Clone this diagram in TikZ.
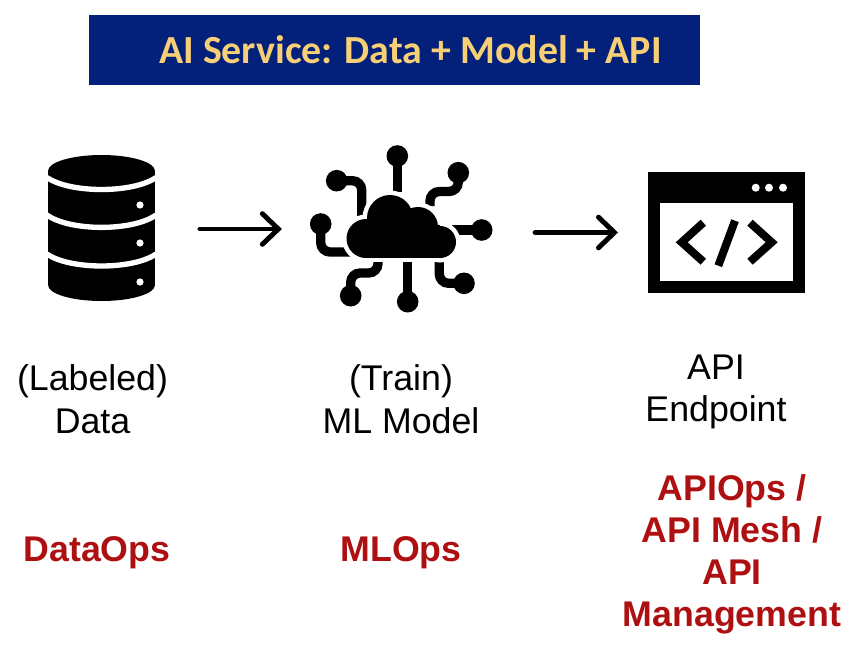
\documentclass[tikz,border=0pt]{standalone}
\usepackage{fontspec}
\setmainfont{Liberation Sans}
\newfontfamily\titlefont{Carlito}
\usetikzlibrary{arrows.meta}
\definecolor{banner}{HTML}{03217B}
\definecolor{gold}{HTML}{F6CF76}
\definecolor{redlab}{HTML}{AE0F10}
\tikzset{
  x=0.75pt,y=-0.75pt,
  icon/.style={fill=black,draw=none},
  wire/.style={draw=black,line width=7pt,rounded corners=7pt},
  box/.style={draw=none,inner sep=0pt,minimum width=#1},
  flow/.style={draw=black,line width=3.7pt,line cap=round,line join=round,-{Straight Barb[length=12pt,width=23pt,line cap=round]}},
  lab/.style={align=center,font=\fontsize{26.8pt}{32pt}\selectfont},
  ops/.style={align=center,text=redlab,font=\fontsize{26.8pt}{33.5pt}\selectfont\bfseries},
}
\begin{document}
\begin{tikzpicture}
\useasboundingbox (0,0) rectangle (860,650);
% banner
\node[fill=banner,minimum width=458.25pt,minimum height=52.5pt,inner sep=0pt,text=gold,font=\fontsize{29.9pt}{36pt}\selectfont\titlefont\bfseries] (title) at (394.5,50) {\hspace*{24pt}AI Service: Data + Model + API};
% icon frames
\node[box=80.25pt,minimum height=109pt] (db) at (101.5,229) {};
\node[box=137pt,minimum height=120pt] (cloud) at (401.5,229) {};
\node[box=117.5pt,minimum height=90pt] (api) at (726.6,232.5) {};
% database
\fill[icon] (101.5,171) ellipse[x radius=53.5,y radius=16];
\fill[icon] (101.5,285) ellipse[x radius=53.5,y radius=16];
\fill[icon] (48,171) rectangle (155,285);
\foreach \c/\e in {189.5/177.5,227.5/215,266/254}{
  \draw[white,line width=4pt] (47,\e) .. controls (70,{\c+4}) and (133,{\c+4}) .. (156,\e);
}
\foreach \y in {205,243,282}{\fill[white] (140,\y) circle[radius=3.6];}
% cloud wires
\draw[wire] (397.3,156) -- (397.3,192);
\draw[wire] (336.7,180.7) -- (361.7,180.7) -- (361.7,218);
\draw[wire] (320.7,224) -- (320.7,252) -- (355,252);
\draw[wire] (458.3,172.7) -- (458.3,191.5) -- (430,191.5) -- (430,206);
\draw[wire] (481.7,230) -- (450,230);
\draw[wire] (350.7,295.7) -- (350.7,273) -- (378,273) -- (378,260);
\draw[wire] (407.7,301.7) -- (407.7,260);
\draw[wire] (464,283.3) -- (439.3,283.3) -- (439.3,260);
\foreach \p in {(397.3,156),(336.7,180.7),(320.7,224),(458.3,172.7),(481.7,230),(350.7,295.7),(407.7,301.7),(464,283.3)}{\fill \p circle[radius=10.8];}
% cloud: white halo, then black lobes
\foreach \cx/\cy/\r in {366/238.5/19.5,390/218/23,418/227/20,440/242/16}{
  \fill[white] (\cx,\cy) circle[radius=\r+4.5];
}
\fill[white] (366,225) rectangle (440,262);
\foreach \cx/\cy/\r in {366/238.5/19.5,390/218/23,418/227/20,440/242/16}{
  \fill[icon] (\cx,\cy) circle[radius=\r];
}
\fill[icon] (366,225) rectangle (440,258);
% api window
\fill[icon] (648.3,172.3) rectangle (805,292.7);
\fill[white] (660,203.3) rectangle (792.7,281);
\foreach \x in {755.7,769,783}{\fill[white] (\x,187.7) circle[radius=4];}
\draw[line width=6pt,miter limit=10] (703.3,222.7) -- (681.7,242.3) -- (703.3,261.7);
\draw[line width=6pt] (735,220.7) -- (718.3,265.7);
\draw[line width=6pt,miter limit=10] (750,222.7) -- (771.7,242.3) -- (750,261.7);
% arrows
\draw[flow,shorten <=33.5pt,shorten >=21pt] (db.east) -- (cloud.west);
\draw[flow,shorten <=31.5pt,shorten >=22.5pt] (cloud.east |- api.west) -- (api.west);
% labels
\node[lab] (ldata) at (92.5,399) {(Labeled)\\Data};
\node[lab] (lml) at (401,399) {(Train)\\ML Model};
\node[lab] (lapi) at (716,392) {API\\Endpoint};
\node[ops] (odata) at (97,553) {DataOps};
\node[ops] (oml) at (401,553) {MLOps};
\node[ops,font=\fontsize{26.8pt}{31.5pt}\selectfont\bfseries] (oapi) at (732,554) {APIOps /\\API Mesh /\\API\\Management};
\end{tikzpicture}
\end{document}
